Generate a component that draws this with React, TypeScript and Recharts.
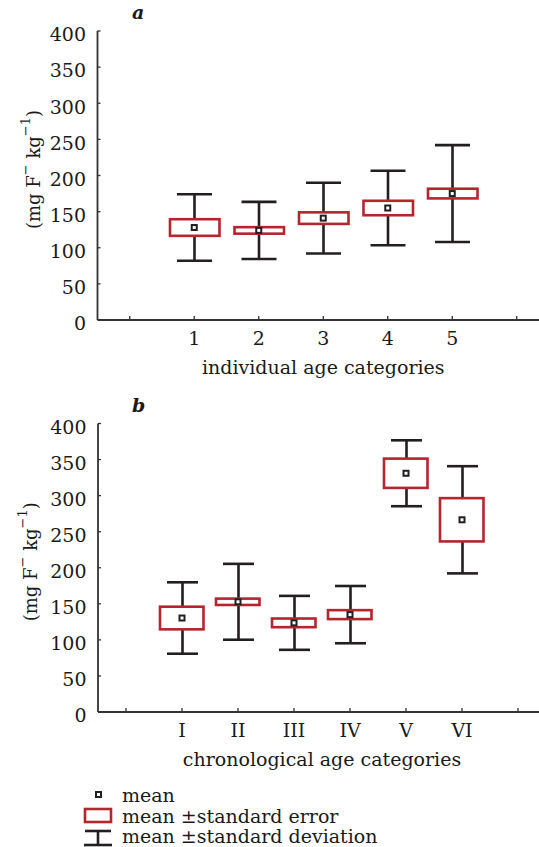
import React from 'react';
import { ComposedChart, Bar, Line, XAxis, YAxis } from 'recharts';

// ---- data ----
const ageCategories = ['1', '2', '3', '4', '5'];
const ageMean = [128, 124, 141, 155, 175];
const ageSE = [11.5, 4.5, 8, 10, 6.7];
const ageSD = [46, 39.5, 49, 51.5, 67];

const chronoCategories = ['I', 'II', 'III', 'IV', 'V', 'VI'];
const chronoMean = [130.3, 152.8, 123.6, 135, 331, 266.5];
const chronoSE = [15.7, 4.4, 6, 6.2, 20.3, 30];
const chronoSD = [49.5, 52.6, 37.4, 39.7, 45.7, 74.3];

const yTicks = [0, 50, 100, 150, 200, 250, 300, 350, 400];

// ---- styles ----
const FONT = '"DejaVu Serif", "Liberation Serif", serif';
const BLACK = '#231f20';
const RED = '#b3262e';
const AXIS = '#333333';
const TXT = '#1a1a1a';
const FS = 19;

type Row = { cat: string; mean?: number; seRange?: [number, number]; sdRange?: [number, number] };

function buildRows(cats: string[], mean: number[], se: number[], sd: number[]): Row[] {
  const rows: Row[] = [{ cat: '' }];
  cats.forEach((c, i) => {
    rows.push({
      cat: c,
      mean: mean[i],
      seRange: [mean[i] - se[i], mean[i] + se[i]],
      sdRange: [mean[i] - sd[i], mean[i] + sd[i]],
    });
  });
  rows.push({ cat: ' ' });
  return rows;
}

const Whisker = (props: any) => {
  const { x, y, width, height } = props;
  if (x == null || y == null || !height) return <g />;
  const top = Math.min(y, y + height);
  const bot = Math.max(y, y + height);
  const cx = x + width / 2;
  return (
    <g stroke={BLACK} strokeWidth={2.6} fill="none">
      <line x1={cx} x2={cx} y1={top} y2={bot} />
      <line x1={x} x2={x + width} y1={top} y2={top} />
      <line x1={x} x2={x + width} y1={bot} y2={bot} />
    </g>
  );
};

const SEBox = (props: any) => {
  const { x, y, width, height } = props;
  if (x == null || y == null || !height) return <g />;
  const top = Math.min(y, y + height);
  const h = Math.abs(height);
  return <rect x={x} y={top} width={width} height={h} fill="#ffffff" stroke={RED} strokeWidth={2.6} />;
};

const MeanDot = (props: any) => {
  const { cx, cy, index } = props;
  if (cx == null || cy == null || isNaN(cy)) return <g key={`d${index}`} />;
  return (
    <rect key={`d${index}`} x={cx - 2.5} y={cy - 2.5} width={5} height={5} fill="#ffffff" stroke={BLACK} strokeWidth={2} />
  );
};

const XTick = (props: any) => {
  const { x, y, payload } = props;
  return (
    <text x={x} y={y + 25} textAnchor="middle" fill={TXT} fontSize={FS} fontFamily={FONT}>
      {payload.value}
    </text>
  );
};

const YTick = (props: any) => {
  const { x, y, payload } = props;
  return (
    <text x={x} y={y + 10.3} textAnchor="end" fill={TXT} fontSize={FS} fontFamily={FONT}>
      {payload.value}
    </text>
  );
};

type PanelProps = {
  rows: Row[];
  width: number;
  top: number;
  left: number;
  right: number;
  xLabel: string;
  boxSize: number;
  capSize: number;
  yLabelX: number;
};

function Panel({ rows, width, top, left, right, xLabel, boxSize, capSize, yLabelX }: PanelProps) {
  const axisLine = { stroke: AXIS, strokeWidth: 1.8 };
  const tickLine = { stroke: AXIS, strokeWidth: 1.3 };
  return (
    <ComposedChart
      width={width}
      height={390}
      data={rows}
      margin={{ top, right, left: 0, bottom: 10 }}
    >
      <XAxis
        xAxisId="a"
        dataKey="cat"
        height={60}
        interval={0}
        tickSize={-4}
        tickMargin={4}
        axisLine={axisLine}
        tickLine={tickLine}
        tick={<XTick />}
        label={{
          content: (p: any) => {
            const vb = p.viewBox || {};
            return (
              <text
                x={vb.x + vb.width / 2}
                y={vb.y + 54}
                textAnchor="middle"
                fill={TXT}
                fontSize={FS}
                fontFamily={FONT}
              >
                {xLabel}
              </text>
            );
          },
        }}
      />
      <XAxis
        xAxisId="b"
        dataKey="cat"
        orientation="top"
        height={0}
        interval={0}
        tickSize={-4}
        tick={false}
        axisLine={axisLine}
        tickLine={tickLine}
      />
      <YAxis
        type="number"
        domain={[0, 400]}
        ticks={yTicks}
        width={left}
        interval={0}
        tickSize={-3}
        tickMargin={14.5}
        axisLine={axisLine}
        tickLine={tickLine}
        tick={<YTick />}
        label={{
          content: (p: any) => {
            const vb = p.viewBox || {};
            const cy = vb.y + vb.height / 2 - 6;
            return (
              <text
                x={yLabelX}
                y={cy}
                transform={`rotate(-90 ${yLabelX} ${cy})`}
                textAnchor="middle"
                dominantBaseline="central"
                fill={TXT}
                fontSize={18}
                fontFamily={FONT}
              >
                (mg F
                <tspan dy={-8} fontSize={13}>−</tspan>
                <tspan dy={8}> kg</tspan>
                <tspan dy={-8} fontSize={13}>−1</tspan>
                <tspan dy={8}>)</tspan>
              </text>
            );
          },
        }}
      />
      <Bar xAxisId="a" dataKey="sdRange" barSize={capSize} shape={Whisker} isAnimationActive={false} />
      <Bar xAxisId="b" dataKey="seRange" barSize={boxSize} shape={SEBox} isAnimationActive={false} />
      <Line
        xAxisId="a"
        dataKey="mean"
        stroke="none"
        dot={MeanDot}
        activeDot={false}
        isAnimationActive={false}
        legendType="none"
      />
    </ComposedChart>
  );
}

const ageRows = buildRows(ageCategories, ageMean, ageSE, ageSD);
const chronoRows = buildRows(chronoCategories, chronoMean, chronoSE, chronoSD);

const titleStyle: React.CSSProperties = {
  position: 'absolute',
  fontFamily: FONT,
  fontWeight: 'bold',
  fontStyle: 'italic',
  fontSize: 19,
  color: TXT,
  lineHeight: '19px',
};

export default function App() {
  return (
    <div
      style={{
        position: 'absolute',
        left: 0,
        top: 0,
        width: 539,
        height: 847,
        overflow: 'hidden',
        background: '#ffffff',
      }}
    >
      <div style={{ position: 'absolute', left: 0, top: 0 }}>
        <Panel
          rows={ageRows}
          width={560}
          top={31}
          left={97.5}
          right={11}
          xLabel="individual age categories"
          boxSize={49.5}
          capSize={35}
          yLabelX={33}
        />
      </div>
      <div style={{ position: 'absolute', left: 0, top: 392 }}>
        <Panel
          rows={chronoRows}
          width={560}
          top={31.5}
          left={98}
          right={14}
          xLabel="chronological age categories"
          boxSize={43.5}
          capSize={31}
          yLabelX={30}
        />
      </div>
      <div style={{ ...titleStyle, left: 132, top: 3 }}>a</div>
      <div style={{ ...titleStyle, left: 132, top: 396 }}>b</div>
      <svg
        style={{ position: 'absolute', left: 0, top: 780 }}
        width={539}
        height={67}
      >
        <rect x={96} y={12} width={5} height={5} fill="#ffffff" stroke={BLACK} strokeWidth={2} />
        <text x={122} y={22} fill={TXT} fontSize={FS} fontFamily={FONT}>mean</text>
        <rect x={85} y={29} width={26} height={13} fill="#ffffff" stroke={RED} strokeWidth={2.6} />
        <text x={122} y={43} fill={TXT} fontSize={FS} fontFamily={FONT}>mean ±standard error</text>
        <g stroke={BLACK} strokeWidth={2.6}>
          <line x1={85} x2={111} y1={51} y2={51} />
          <line x1={98} x2={98} y1={51} y2={65} />
          <line x1={84} x2={112} y1={65} y2={65} />
        </g>
        <text x={122} y={63} fill={TXT} fontSize={FS} fontFamily={FONT}>mean ±standard deviation</text>
      </svg>
    </div>
  );
}
